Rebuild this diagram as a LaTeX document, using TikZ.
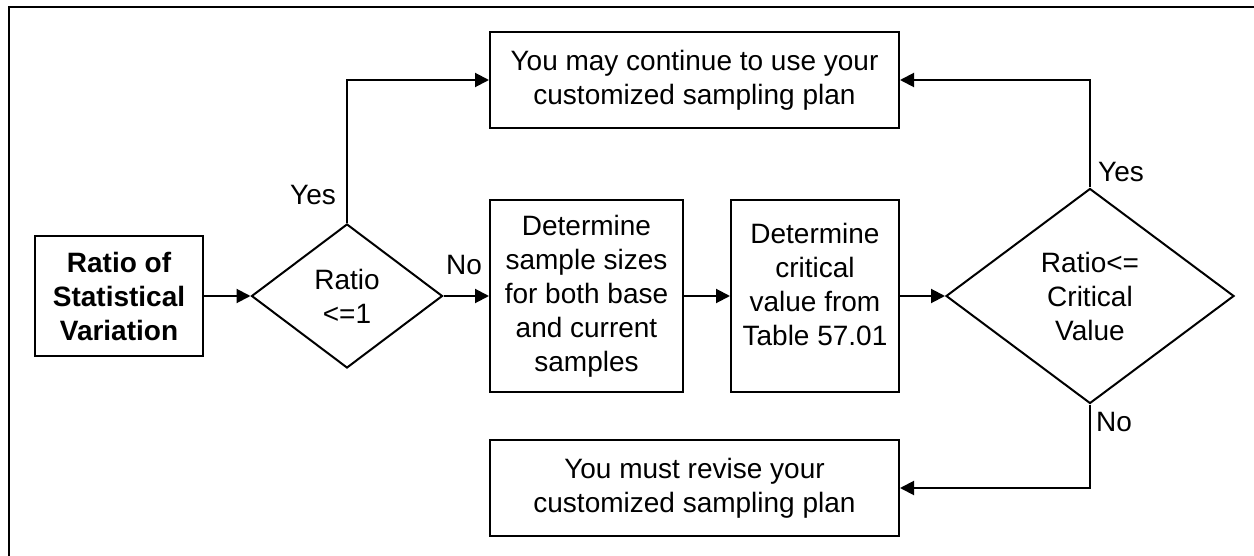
\documentclass[tikz,border=0pt]{standalone}
\usepackage{fontspec}
\setmainfont{Liberation Sans}
\usetikzlibrary{shapes.geometric,arrows.meta}
\begin{document}
\begin{tikzpicture}[x=0.5pt,y=-0.5pt,
  every node/.style={font=\fontsize{14pt}{17pt}\selectfont},
  box/.style={draw,line width=1pt,inner sep=0pt,align=center},
  dia/.style={draw,line width=1pt,diamond,inner sep=0pt,align=center},
  conn/.style={line width=1pt,-{Triangle[length=7pt,width=7pt]}},
  lbl/.style={inner sep=0pt}]
\useasboundingbox (0,0) rectangle (1254,556);
\draw[line width=1.4pt] (9,556) -- (9,7) -- (1254,7);
\node[box,minimum width=84pt,minimum height=60pt,font=\fontsize{14pt}{17pt}\selectfont\bfseries] (start) at (119,296) {Ratio of\\Statistical\\Variation};
\node[dia,minimum width=95.5pt,minimum height=72pt] (d1) at (347,296) {Ratio\\<=1};
\node[box,minimum width=204.5pt,minimum height=48pt] (cont) at (694.5,80) {You may continue to use your\\customized sampling plan};
\node[box,minimum width=96.5pt,minimum height=96pt] (b2) at (586.5,296) {Determine\\sample sizes\\for both base\\and current\\samples};
\node[box,minimum width=84pt,minimum height=96pt] (b3) at (815,296) {};
\node[lbl,align=center] (b3t) at (815,284) {Determine\\critical\\value from\\Table 57.01};
\node[dia,minimum width=144pt,minimum height=107.5pt] (d2) at (1090,296) {Ratio<=\\Critical\\Value};
\node[box,minimum width=204.5pt,minimum height=48pt] (rev) at (694.5,488) {You must revise your\\customized sampling plan};
\coordinate (c1) at (347,80);
\coordinate (c2) at (1090,80);
\coordinate (c3) at (1090,488);
\draw[conn] (start.east) -- (d1.west);
\draw[conn] (d1.north) -- (c1) -- (cont.west);
\draw[conn] (d1.east) -- (b2.west);
\draw[conn] (b2.east) -- (b3.west);
\draw[conn] (b3.east) -- (d2.west);
\draw[conn] (d2.north) -- (c2) -- (cont.east);
\draw[conn] (d2.south) -- (c3) -- (rev.east);
\node[lbl] (y1) at (313,195) {Yes};
\node[lbl] (n1) at (464,265) {No};
\node[lbl] (y2) at (1121,172) {Yes};
\node[lbl] (n2) at (1114,422) {No};
\end{tikzpicture}
\end{document}
